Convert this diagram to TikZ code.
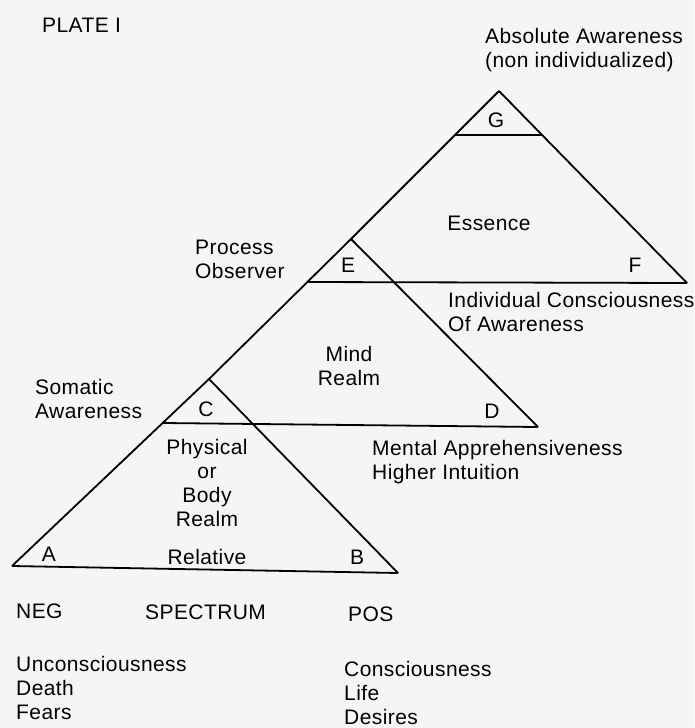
\documentclass[tikz,border=0pt]{standalone}
\usepackage{fontspec}
\setmainfont[LetterSpace=2.0]{Liberation Sans}
\usepackage{tikz}
\usepackage{xcolor}

\begin{document}
\begin{tikzpicture}[x=1pt,y=-1pt,
  rim/.style={line width=1.8pt,line join=miter},
  txt/.style={font=\fontsize{21}{24}\selectfont,inner sep=0pt,align=left},
  ctxt/.style={txt,align=center}]
\fill[black!4] (0,0) rectangle (694,728);
\useasboundingbox (0,0) rectangle (694,728);

% corners of the three triangles
\coordinate (cA) at (12,566);
\coordinate (cB) at (398,573);
\coordinate (cC) at (209,379);
\coordinate (cD) at (538,427);
\coordinate (cE) at (351,239);
\coordinate (cF) at (687,283);
\coordinate (cG) at (499,91);

% left side, one line up to the top
\draw[rim] (cA) -- (cC) -- (cE) -- (cG);
% right sides
\draw[rim] (cC) -- (cB);
\draw[rim] (cE) -- (cD);
\draw[rim] (cG) -- (cF);
% bases
\draw[rim] (cA) -- (cB);
\draw[rim] (163,423) -- (cD);
\draw[rim] (307,282) -- (cF);
\draw[rim] (455,135) -- (542,135);

\node[txt,anchor=west] (plate) at (42,25) {PLATE I};
\node[txt,anchor=west] (absol) at (485,50) {Absolute Awareness\\(non individualized)};

\node[ctxt] (lG) at (496,120) {G};
\node[ctxt] (essence) at (489,223) {Essence};
\node[txt,anchor=west] (process) at (195,259) {Process\\Observer};
\node[ctxt] (lE) at (348,265) {E};
\node[ctxt] (lF) at (635,265) {F};
\node[txt,anchor=west] (indiv) at (448,312) {Individual Consciousness\\Of Awareness};

\node[ctxt] (mind) at (349,366) {Mind\\Realm};
\node[txt,anchor=west] (somatic) at (35,399) {Somatic\\Awareness};
\node[ctxt] (lC) at (206,409) {C};
\node[ctxt] (lD) at (492,411) {D};
\node[txt,anchor=west] (mental) at (372,462) {Mental Apprehensiveness\\Higher Intuition};

\node[ctxt] (physical) at (207,483) {Physical\\or\\Body\\Realm};
\node[ctxt] (lA) at (49,554) {A};
\node[ctxt] (relative) at (207,557) {Relative};
\node[ctxt] (lB) at (357,557) {B};

\node[txt,anchor=west] (neg) at (16,611) {NEG};
\node[txt,anchor=west] (spectrum) at (145,612) {SPECTRUM};
\node[txt,anchor=west] (pos) at (348,614) {POS};

\node[txt,anchor=west] (neglist) at (16,688) {Unconsciousness\\Death\\Fears};
\node[txt,anchor=west] (poslist) at (344,693) {Consciousness\\Life\\Desires};
\end{tikzpicture}
\end{document}
